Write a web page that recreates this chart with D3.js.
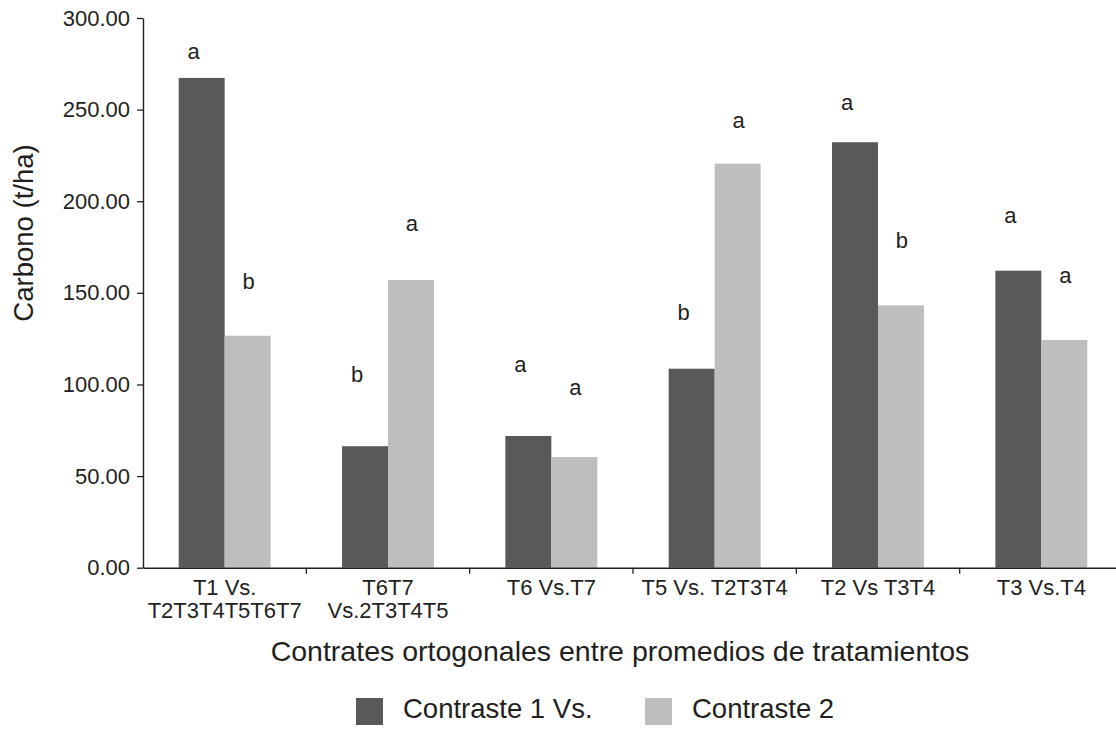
<!DOCTYPE html>
<html>
<head>
<meta charset="utf-8">
<script src="https://cdn.jsdelivr.net/npm/d3@7"></script>
<style>
  body { margin: 0; background: #ffffff; }
  svg { display: block; font-family: "Liberation Sans", Arial, sans-serif; }
</style>
</head>
<body>
<svg id="chart"></svg>
<script>
/* Categories (two-line labels split with "|"). */
const categories = ["T1 Vs.|T2T3T4T5T6T7", "T6T7|Vs.2T3T4T5", "T6 Vs.T7", "T5 Vs. T2T3T4", "T2 Vs T3T4", "T3 Vs.T4"]

/* Series names. */
const seriesNames = ["Contraste 1 Vs.", "Contraste 2"]

/* Values. */
const contraste1 = [267.3, 66.3, 71.9, 108.6, 232.2, 162.1]
const contraste2 = [126.6, 157.0, 60.4, 220.5, 143.2, 124.3]

/* Significance letters and the height (in t/ha) where each one sits. */
const letters1 = ["a", "b", "a", "b", "a", "a"]
const letters2 = ["b", "a", "a", "a", "b", "a"]
const letterY1 = [277.5, 101.5, 107, 135, 250, 188]
const letterY2 = [152, 184, 94.5, 240, 174.5, 155.5]

/* Y-axis ticks. */
const yTicks = [0, 50, 100, 150, 200, 250, 300]

/* Colours. */
const colors = ["#58595b", "#bcbec0"]
const ink = "#231f20"

/* Size of the svg. */
const width = 1116
const height = 749

const svg = d3.select("#chart")
  .attr("width", width)
  .attr("height", height)

/* Build rows for the grouped bars. */
const rows = categories.map((c, i) => ({
  category: c,
  values: [
    { series: seriesNames[0], value: contraste1[i], letter: letters1[i], letterY: letterY1[i] },
    { series: seriesNames[1], value: contraste2[i], letter: letters2[i], letterY: letterY2[i] }
  ]
}))

/* Scales. */
const x0 = d3.scaleBand()
  .domain(categories)
  .range([143, 1123])
  .paddingInner(0.437)
  .paddingOuter(0.2185)

const x1 = d3.scaleBand()
  .domain(seriesNames)
  .range([0, x0.bandwidth()])

const y = d3.scaleLinear()
  .domain([0, 300])
  .range([567.7, 18])

const color = d3.scaleOrdinal()
  .domain(seriesNames)
  .range(colors)

/* Bars. */
const groups = svg.append("g")
  .selectAll("g")
  .data(rows)
  .join("g")
  .attr("transform", d => `translate(${x0(d.category)},0)`)

groups.selectAll("rect")
  .data(d => d.values)
  .join("rect")
  .attr("x", d => x1(d.series))
  .attr("y", d => y(d.value))
  .attr("width", x1.bandwidth())
  .attr("height", d => y(0) - y(d.value))
  .attr("fill", d => color(d.series))

/* Letters above the bars. */
groups.selectAll("text")
  .data(d => d.values)
  .join("text")
  .attr("x", d => x1(d.series) + x1.bandwidth() / 2 + (d.series === seriesNames[0] ? -8 : 1))
  .attr("y", d => y(d.letterY))
  .attr("text-anchor", "middle")
  .attr("font-size", 22)
  .attr("fill", ink)
  .text(d => d.letter)

/* Y axis. */
const yAxis = d3.axisLeft(y)
  .tickValues(yTicks)
  .tickFormat(d3.format(".2f"))
  .tickSize(6)
  .tickSizeOuter(0)
  .tickPadding(7)

const yAxisG = svg.append("g")
  .attr("transform", "translate(143,0)")
  .call(yAxis)

yAxisG.select(".domain").attr("stroke", ink).attr("stroke-width", 1.4)
yAxisG.selectAll(".tick line").attr("stroke", ink).attr("stroke-width", 1.3)
yAxisG.selectAll(".tick text")
  .attr("font-size", 22)
  .attr("font-family", "Liberation Sans, Arial, sans-serif")
  .attr("fill", ink)

/* X axis: line plus ticks on the boundaries between groups. */
const xAxis = d3.axisBottom(x0)
  .tickSize(0)
  .tickSizeOuter(0)
  .tickFormat("")

const xAxisG = svg.append("g")
  .attr("transform", `translate(0,${y(0)})`)
  .call(xAxis)

xAxisG.select(".domain").attr("stroke", ink).attr("stroke-width", 1.4)

const boundaries = categories.map(c => x0(c) + x0.bandwidth() / 2 + x0.step() / 2)

xAxisG.selectAll(".boundary")
  .data(boundaries)
  .join("line")
  .attr("class", "boundary")
  .attr("x1", d => d)
  .attr("x2", d => d)
  .attr("y1", 0)
  .attr("y2", 6)
  .attr("stroke", ink)
  .attr("stroke-width", 1.3)

/* Category labels, split on "|". */
const catLabels = svg.append("g")
  .selectAll("text")
  .data(categories)
  .join("text")
  .attr("x", d => x0(d) + x0.bandwidth() / 2)
  .attr("y", y(0) + 27)
  .attr("text-anchor", "middle")
  .attr("font-size", 22)
  .attr("fill", ink)

catLabels.selectAll("tspan")
  .data(d => d.split("|").map(t => ({ t, x: x0(d) + x0.bandwidth() / 2 })))
  .join("tspan")
  .attr("x", d => d.x)
  .attr("dy", (d, i) => i === 0 ? 0 : 23)
  .text(d => d.t)

/* Y axis title. */
svg.append("text")
  .attr("transform", "translate(33,233) rotate(-90)")
  .attr("text-anchor", "middle")
  .attr("font-size", 27.5)
  .attr("fill", ink)
  .text("Carbono (t/ha)")

/* X axis title. */
svg.append("text")
  .attr("x", 620)
  .attr("y", 661)
  .attr("text-anchor", "middle")
  .attr("font-size", 28.5)
  .attr("fill", ink)
  .text("Contrates ortogonales entre promedios de tratamientos")

/* Legend. */
const legendX = [356, 645]

const legend = svg.append("g")
  .selectAll("g")
  .data(seriesNames)
  .join("g")
  .attr("transform", (d, i) => `translate(${legendX[i]},698)`)

legend.append("rect")
  .attr("width", 27)
  .attr("height", 27)
  .attr("fill", d => color(d))

legend.append("text")
  .attr("x", 47)
  .attr("y", 20)
  .attr("font-size", 27.5)
  .attr("fill", ink)
  .text(d => d)
</script>
</body>
</html>
